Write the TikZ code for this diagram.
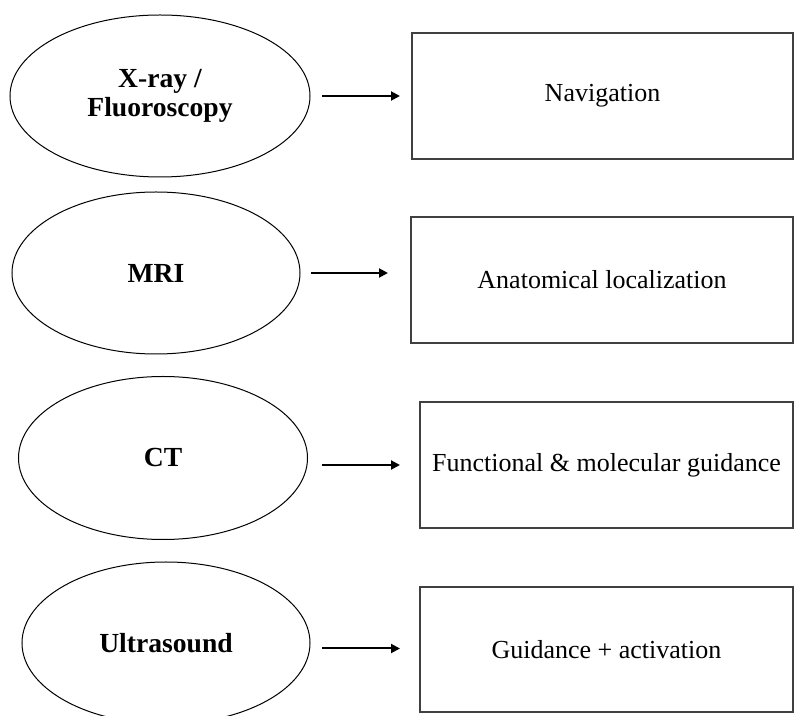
\documentclass[tikz,border=0pt]{standalone}
\usepackage{fontspec}
\setmainfont{Liberation Serif}
\usetikzlibrary{shapes.geometric,arrows.meta}

\begin{document}
\begin{tikzpicture}[x=0.5pt,y=-0.5pt,
    modality/.style={draw,ellipse,line width=0.5pt,inner sep=0pt,outer sep=0pt,
      align=center,font=\fontsize{13.8}{14.5}\selectfont\bfseries},
    role/.style={draw=black!75,rectangle,line width=0.6pt,inner sep=0pt,outer sep=0pt,
      align=center,font=\fontsize{13}{14.5}\selectfont},
    arr/.style={-{Triangle[length=4.5pt,width=4.5pt]},line width=1pt}]
    \useasboundingbox (0,0) rectangle (794,716);
    \clip (0,0) rectangle (794,716);
    % imaging modalities
    \node[modality,minimum width=150pt,minimum height=81pt] (xray) at (160,96) {X-ray /\\Fluoroscopy};
    \node[modality,minimum width=144pt,minimum height=81pt] (mri) at (156,273) {MRI};
    \node[modality,minimum width=144.5pt,minimum height=81.5pt] (ct) at (163,458) {CT};
    \node[modality,minimum width=144pt,minimum height=81pt] (us) at (166,643) {Ultrasound};
    % what each one gives
    \node[role,minimum width=190.5pt,minimum height=63pt] (nav) at (602.5,96) {Navigation};
    \node[role,minimum width=191pt,minimum height=63pt] (anat) at (602,280) {Anatomical localization};
    \node[role,minimum width=186.5pt,minimum height=63pt] (func) at (606.5,465) {Functional \& molecular guidance};
    \node[role,minimum width=186.5pt,minimum height=62.5pt] (guid) at (606.5,649.5) {Guidance + activation};
    % arrows
    \draw [arr,shorten <=6pt,shorten >=6pt] (nav.west -| xray.east) -- (nav.west);
    \draw [arr,shorten <=5.5pt,shorten >=11.5pt] (mri.east) -- (mri.east -| anat.west);
    \draw [arr,shorten <=7pt,shorten >=10pt] (func.west -| ct.east) -- (func.west);
    \draw [arr,shorten <=6pt,shorten >=10pt] ([yshift=0.5pt]guid.west -| us.east) -- ([yshift=0.5pt]guid.west);
\end{tikzpicture}
\end{document}
